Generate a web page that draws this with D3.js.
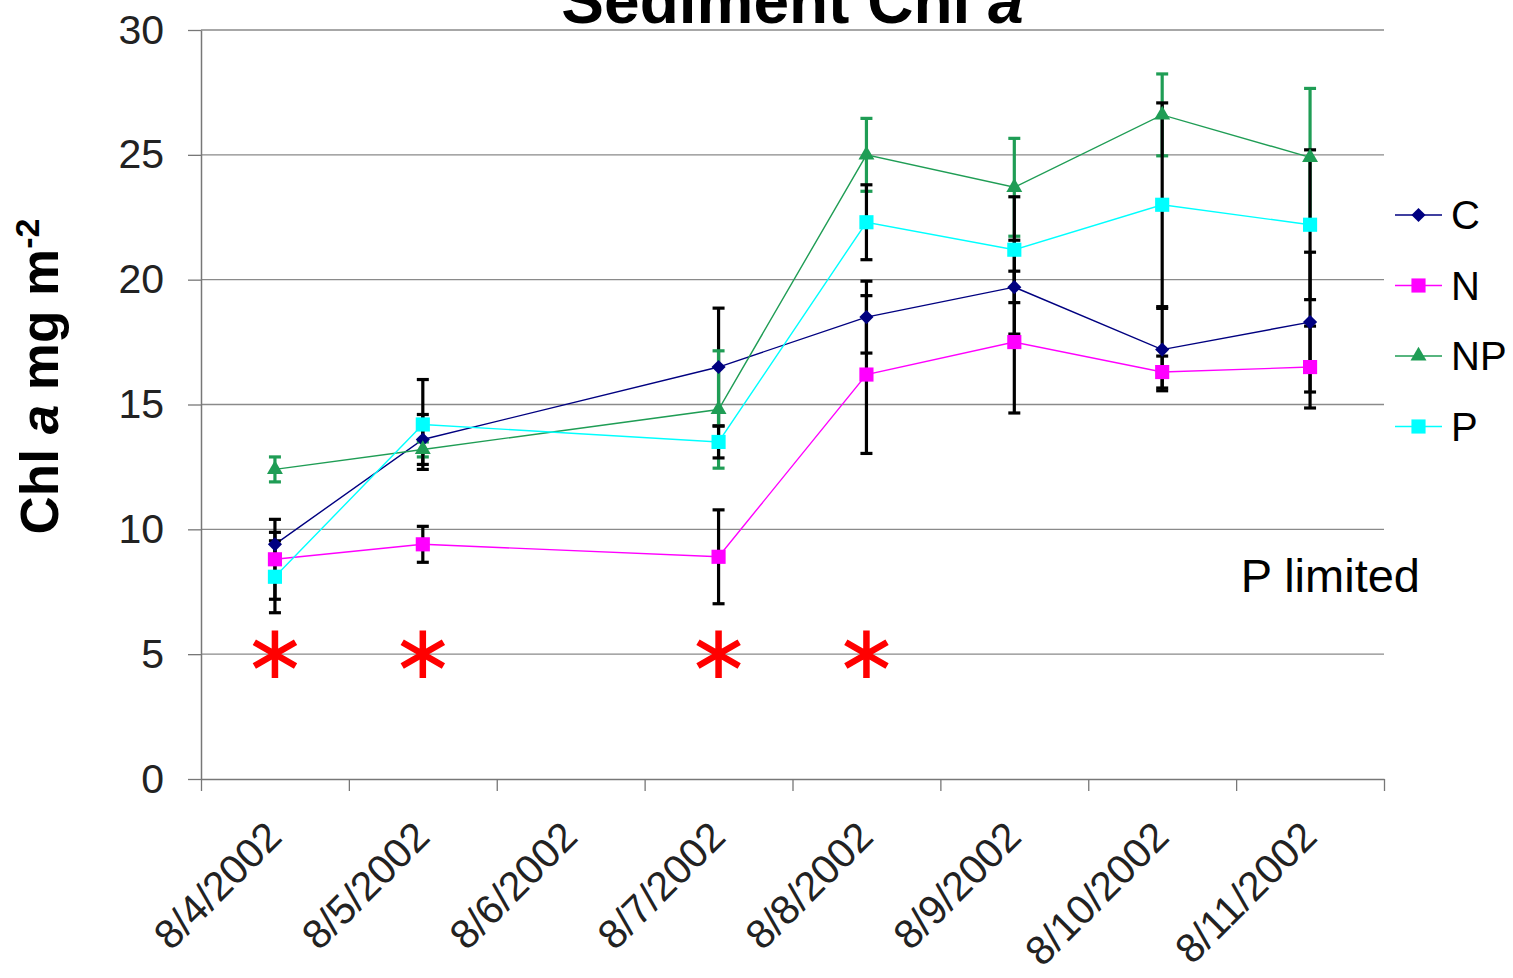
<!DOCTYPE html>
<html>
<head>
<meta charset="utf-8">
<script src="https://cdn.jsdelivr.net/npm/d3@7"></script>
<style>
  body { margin: 0; background: #fff; }
  svg { display: block; font-family: "Liberation Sans", Arial, sans-serif; }
</style>
</head>
<body>
<svg id="chart" width="1513" height="978"></svg>
<script>
// categories on the x axis (8/6 has no samples)
const categories = ["8/4/2002", "8/5/2002", "8/6/2002", "8/7/2002", "8/8/2002", "8/9/2002", "8/10/2002", "8/11/2002"];

// mean values per treatment, null = not sampled
const cValues  = [9.4, 13.6, null, 16.5, 18.5, 19.7, 17.2, 18.3];
const nValues  = [8.8, 9.4, null, 8.9, 16.2, 17.5, 16.3, 16.5];
const npValues = [12.4, 13.2, null, 14.8, 25.0, 23.7, 26.6, 24.9];
const pValues  = [8.1, 14.2, null, 13.5, 22.3, 21.2, 23.0, 22.2];

// +/- error per point
const cErrors  = [0.48, 1.0, null, 2.36, 1.44, 1.88, 1.65, 2.8];
const nErrors  = [1.6, 0.72, null, 1.88, 3.16, 2.84, 0.64, 1.64];
const npErrors = [0.5, 0.3, null, 2.35, 1.46, 1.96, 1.64, 2.76];
const pErrors  = [1.44, 1.8, null, 0.64, 1.5, 2.12, 4.08, 3.0];

const yTicks = [0, 5, 10, 15, 20, 25, 30];

// significance marks
const starDates = ["8/4/2002", "8/5/2002", "8/7/2002", "8/8/2002"];
const starValue = 5;

const series = [
  { name: "C",  values: cValues,  errors: cErrors,  color: "#000080", bar: "#000", shape: "diamond" },
  { name: "N",  values: nValues,  errors: nErrors,  color: "#ff00ff", bar: "#000", shape: "square" },
  { name: "NP", values: npValues, errors: npErrors, color: "#1f9d55", bar: "#1f9d55", shape: "triangle" },
  { name: "P",  values: pValues,  errors: pErrors,  color: "#00ffff", bar: "#000", shape: "square" }
];

const svg = d3.select("#chart");
const margin = { top: 30, right: 129, bottom: 199, left: 201 };
const width = 1513 - margin.left - margin.right;
const height = 978 - margin.top - margin.bottom;

const g = svg.append("g").attr("transform", `translate(${margin.left},${margin.top})`);

const x = d3.scaleBand().domain(categories).range([0, width]).padding(0);
const xIdx = d3.scaleLinear().domain([0, categories.length]).range([0, width]);
const y = d3.scaleLinear().domain([0, 30]).range([height, 0]);
const cx = d => x(d) + x.bandwidth() / 2;

// gridlines
g.append("g")
  .selectAll("line")
  .data(yTicks.filter(t => t > 0))
  .join("line")
  .attr("x1", 0).attr("x2", width)
  .attr("y1", d => y(d)).attr("y2", d => y(d))
  .attr("stroke", "#8a8a8a").attr("stroke-width", 1.3);

// y axis
const yAxis = g.append("g")
  .call(d3.axisLeft(y).tickValues(yTicks).tickSize(13).tickSizeOuter(0).tickPadding(24));
yAxis.select(".domain").attr("stroke", "#777").attr("stroke-width", 1.5);
yAxis.selectAll(".tick line").attr("stroke", "#777").attr("stroke-width", 1.3);
yAxis.selectAll(".tick text").attr("font-size", 41).attr("fill", "#222")
  .attr("font-family", "Liberation Sans, Arial, sans-serif");

// x axis: tick marks at category boundaries
const xAxis = g.append("g")
  .attr("transform", `translate(0,${height})`)
  .call(d3.axisBottom(xIdx).ticks(categories.length).tickFormat("").tickSize(12).tickSizeOuter(0));
xAxis.select(".domain").attr("stroke", "#777").attr("stroke-width", 1.5);
xAxis.selectAll(".tick line").attr("stroke", "#777").attr("stroke-width", 1.3);

// x labels, rotated
g.append("g")
  .selectAll("text")
  .data(categories)
  .join("text")
  .attr("transform", d => `translate(${cx(d) + 9},${height + 60}) rotate(-45)`)
  .attr("text-anchor", "end")
  .attr("font-size", 41)
  .attr("fill", "#222")
  .text(d => d);

const symbolFor = shape => {
  if (shape === "diamond") return d3.symbol(d3.symbolSquare, 100)();
  if (shape === "triangle") return d3.symbol(d3.symbolTriangle, 110)();
  return d3.symbol(d3.symbolSquare, 200)();
};

const line = d3.line()
  .defined(d => d.v !== null)
  .x(d => cx(d.c))
  .y(d => y(d.v));

const pts = s => categories.map((c, i) => ({ c, v: s.values[i], e: s.errors[i] })).filter(d => d.v !== null);

// lines
series.forEach(s => {
  g.append("path")
    .datum(pts(s))
    .attr("fill", "none")
    .attr("stroke", s.color)
    .attr("stroke-width", 1.4)
    .attr("d", line);
});

// error bars
series.forEach(s => {
  const eb = g.append("g").selectAll("g").data(pts(s)).join("g");
  eb.append("line")
    .attr("x1", d => cx(d.c)).attr("x2", d => cx(d.c))
    .attr("y1", d => y(d.v + d.e)).attr("y2", d => y(d.v - d.e))
    .attr("stroke", s.bar).attr("stroke-width", 3.2);
  [1, -1].forEach(sign => {
    eb.append("line")
      .attr("x1", d => cx(d.c) - 6).attr("x2", d => cx(d.c) + 6)
      .attr("y1", d => y(d.v + sign * d.e)).attr("y2", d => y(d.v + sign * d.e))
      .attr("stroke", s.bar).attr("stroke-width", 3.2);
  });
});

// markers
series.forEach(s => {
  g.append("g").selectAll("path").data(pts(s)).join("path")
    .attr("transform", d => `translate(${cx(d.c)},${y(d.v)})` + (s.shape === "diamond" ? " rotate(45)" : ""))
    .attr("d", symbolFor(s.shape))
    .attr("fill", s.color);
});

// red asterisks
g.append("g").selectAll("path").data(starDates).join("path")
  .attr("transform", d => `translate(${cx(d)},${y(starValue)})`)
  .attr("d", d3.symbol(d3.symbolAsterisk, 1600)())
  .attr("fill", "none")
  .attr("stroke", "#ff0000")
  .attr("stroke-width", 6.5);

// annotation
g.append("text")
  .attr("x", width + 36)
  .attr("y", y(7.5))
  .attr("text-anchor", "end")
  .attr("font-size", 47)
  .attr("fill", "#000")
  .text("P limited");

// title (partly cut by the top edge, as in the source figure)
const title = svg.append("text")
  .attr("x", margin.left + width / 2)
  .attr("y", 23)
  .attr("text-anchor", "middle")
  .attr("font-size", 64)
  .attr("font-weight", "bold");
title.append("tspan").text("Sediment Chl ");
title.append("tspan").attr("font-style", "italic").text("a");

// y label
const ylab = svg.append("text")
  .attr("transform", `translate(58,${margin.top + height / 2 - 28}) rotate(-90)`)
  .attr("text-anchor", "middle")
  .attr("font-size", 53)
  .attr("font-weight", "bold");
ylab.append("tspan").text("Chl ");
ylab.append("tspan").attr("font-style", "italic").text("a");
ylab.append("tspan").text(" mg m");
ylab.append("tspan").attr("font-size", 34).attr("dy", -19).text("-2");

// legend
const legend = svg.append("g").attr("transform", "translate(1395,215)");
series.forEach((s, i) => {
  const row = legend.append("g").attr("transform", `translate(0,${i * 70.5})`);
  row.append("line").attr("x1", 0).attr("x2", 47).attr("y1", 0).attr("y2", 0)
    .attr("stroke", s.color).attr("stroke-width", 1.4);
  row.append("path")
    .attr("transform", `translate(23.5,0)` + (s.shape === "diamond" ? " rotate(45)" : ""))
    .attr("d", symbolFor(s.shape))
    .attr("fill", s.color);
  row.append("text").attr("x", 56).attr("y", 14).attr("font-size", 40).text(s.name);
});
</script>
</body>
</html>
